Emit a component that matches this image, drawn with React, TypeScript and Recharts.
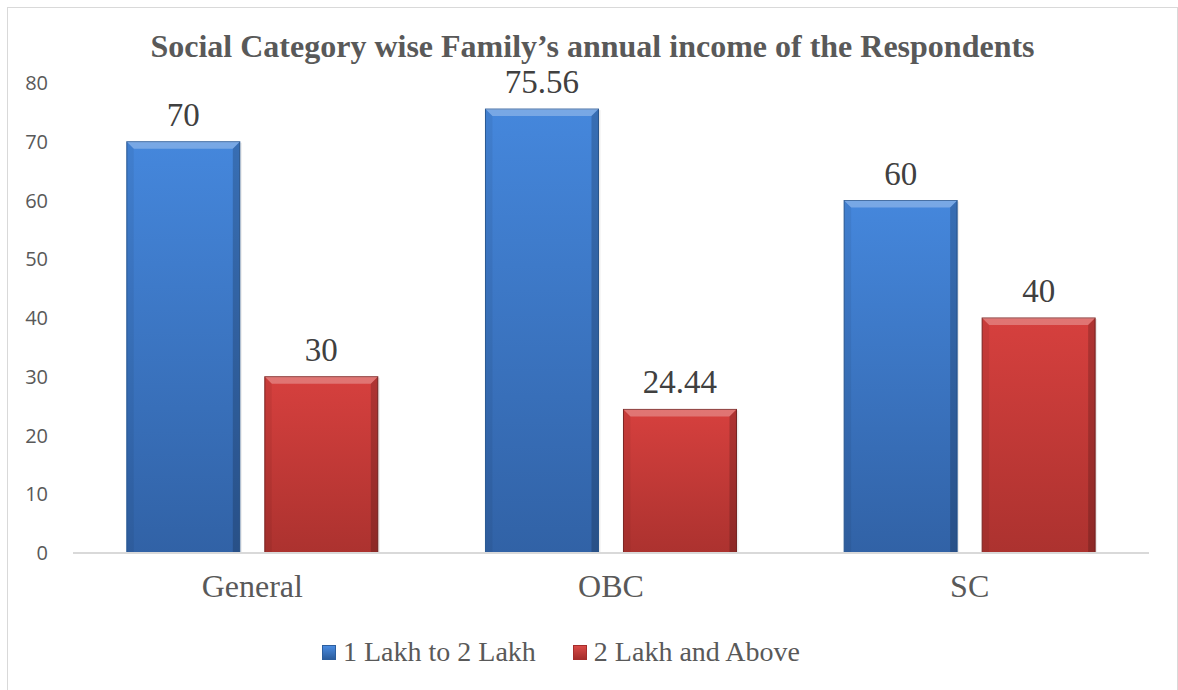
import React from 'react';
import { BarChart, Bar, XAxis, YAxis, Legend, LabelList } from 'recharts';

const categories = ['General', 'OBC', 'SC'];
const lakh1to2 = [70, 75.56, 60];
const lakh2Above = [30, 24.44, 40];
const yTicks = [0, 10, 20, 30, 40, 50, 60, 70, 80];
const seriesNames = ['1 Lakh to 2 Lakh', '2 Lakh and Above'];
const title = 'Social Category wise Family\u2019s annual income of the Respondents';

const data = categories.map((c, i) => ({ name: c, a: lakh1to2[i], b: lakh2Above[i] }));

const SERIF = '"Liberation Serif", "Times New Roman", serif';
const SANS = '"Open Sans", "Liberation Sans", sans-serif';

const BevelBar = (props: any) => {
  const { x, y, width, height, gradId, stroke } = props;
  if (!height || height <= 0) return null;
  const b = 7;
  return (
    <g>
      <rect x={x + 2} y={y + 1} width={width} height={height - 1} fill="#000" opacity={0.08} />
      <rect x={x} y={y} width={width} height={height} fill={`url(#${gradId})`} stroke={stroke} strokeWidth={1} />
      <polygon points={`${x},${y} ${x + width},${y} ${x + width - b},${y + b} ${x + b},${y + b}`} fill="#fff" opacity={0.28} />
      <polygon points={`${x},${y} ${x + b},${y + b} ${x + b},${y + height} ${x},${y + height}`} fill="#000" opacity={0.06} />
      <polygon points={`${x + width},${y} ${x + width - b},${y + b} ${x + width - b},${y + height} ${x + width},${y + height}`} fill="#000" opacity={0.18} />
    </g>
  );
};

const LegendContent = () => {
  const items = [
    { name: seriesNames[0], c1: '#4a8be0', c2: '#2c5e9e' },
    { name: seriesNames[1], c1: '#d94a47', c2: '#a52d2b' },
  ];
  return (
    <div style={{ display: 'flex', alignItems: 'center', fontFamily: SERIF, fontSize: 28, color: '#595959', lineHeight: '34px', whiteSpace: 'nowrap' }}>
      {items.map((it, i) => (
        <div key={i} style={{ display: 'flex', alignItems: 'center', marginRight: i === 0 ? 37 : 0 }}>
          <span style={{ display: 'inline-block', width: 14, height: 15, marginRight: 7, background: `linear-gradient(${it.c1}, ${it.c2})`, border: `1px solid ${it.c2}`, boxSizing: 'border-box' }} />
          <span>{it.name}</span>
        </div>
      ))}
    </div>
  );
};

export default function App() {
  return (
    <div style={{ position: 'absolute', left: 7, top: 7, width: 1169, height: 700, border: '1px solid #d9d9d9', background: '#fff' }}>
      <div style={{ position: 'absolute', left: 0, top: 22, width: 1169, textAlign: 'center', fontFamily: SERIF, fontWeight: 'bold', fontSize: 32, lineHeight: '32px', color: '#595959', whiteSpace: 'nowrap' }}>
        {title}
      </div>
      <BarChart
        width={1169}
        height={682}
        data={data}
        margin={{ top: 75, right: 28, left: 0, bottom: 97 }}
        barCategoryGap="15%"
        barGap={25}
      >
        <defs>
          <linearGradient id="gBlue" x1="0" y1="0" x2="0" y2="1">
            <stop offset="0%" stopColor="#4587dc" />
            <stop offset="100%" stopColor="#3162a6" />
          </linearGradient>
          <linearGradient id="gRed" x1="0" y1="0" x2="0" y2="1">
            <stop offset="0%" stopColor="#d6403e" />
            <stop offset="100%" stopColor="#ac322f" />
          </linearGradient>
        </defs>
        <XAxis
          dataKey="name"
          height={40}
          tickLine={false}
          tickSize={0}
          tickMargin={21}
          axisLine={{ stroke: '#d9d9d9', strokeWidth: 2 }}
          tick={{ fontFamily: SERIF, fontSize: 32, fill: '#595959' }}
        />
        <YAxis
          width={65}
          domain={[0, 80]}
          ticks={yTicks}
          interval={0}
          axisLine={false}
          tickLine={false}
          tickSize={0}
          tickMargin={25}
          tick={{ fontFamily: SANS, fontSize: 20, fill: '#595959' }}
        />
        <Legend verticalAlign="middle" align="center" layout="horizontal" wrapperStyle={{ left: 314, top: 627, width: 'auto' }} content={<LegendContent />} />
        <Bar dataKey="a" name={seriesNames[0]} fill="#3f7fcf" isAnimationActive={false}
          shape={(p: any) => <BevelBar {...p} gradId="gBlue" stroke="#2a5a96" />}>
          <LabelList dataKey="a" position="top" offset={16} style={{ fontFamily: SERIF, fontSize: 33, fill: '#404040' }} />
        </Bar>
        <Bar dataKey="b" name={seriesNames[1]} fill="#c0392f" isAnimationActive={false}
          shape={(p: any) => <BevelBar {...p} gradId="gRed" stroke="#7e2624" />}>
          <LabelList dataKey="b" position="top" offset={16} style={{ fontFamily: SERIF, fontSize: 33, fill: '#404040' }} />
        </Bar>
      </BarChart>
    </div>
  );
}
